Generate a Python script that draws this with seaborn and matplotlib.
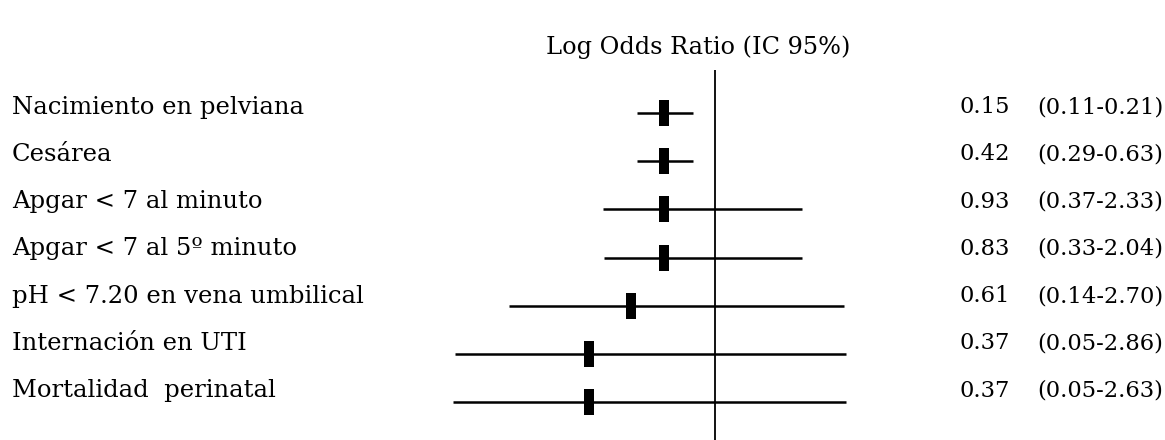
import matplotlib
matplotlib.use("Agg")
import matplotlib.pyplot as plt
import seaborn as sns
import pandas as pd

# ---- data ----
categories = [
    "Nacimiento en pelviana",
    "Cesárea",
    "Apgar < 7 al minuto",
    "Apgar < 7 al 5º minuto",
    "pH < 7.20 en vena umbilical",
    "Internación en UTI",
    "Mortalidad  perinatal",
]
odds_ratio = ["0.15", "0.42", "0.93", "0.83", "0.61", "0.37", "0.37"]
ci_text = ["(0.11-0.21)", "(0.29-0.63)", "(0.37-2.33)", "(0.33-2.04)",
           "(0.14-2.70)", "(0.05-2.86)", "(0.05-2.63)"]
# positions as drawn in the (schematic) forest plot, null line at 0
plot_est = [-0.51, -0.51, -0.51, -0.51, -0.84, -1.26, -1.26]
plot_lo = [-0.78, -0.78, -1.12, -1.11, -2.06, -2.60, -2.62]
plot_hi = [-0.22, -0.22, 0.87, 0.87, 1.29, 1.31, 1.31]
title = "Log Odds Ratio (IC 95%)"

df = pd.DataFrame({"cat": categories, "est": plot_est, "lo": plot_lo,
                   "hi": plot_hi, "row": range(len(categories))})

sns.set_theme(style="white")
plt.rcParams["font.family"] = ["DejaVu Serif"]

fig = plt.figure(figsize=(11.65, 4.4), dpi=100)
ax = fig.add_axes([0, 0, 1, 1])
ax.set_xlim(-7.15, 4.50)
ax.set_ylim(6.784, -2.344)
ax.axis("off")

# null line
ax.vlines(0, -0.90, 6.784, color="black", lw=1.3)
# confidence intervals
ax.hlines(df["row"], df["lo"], df["hi"], color="black", lw=1.8)
# point estimates (rectangular boxes)
box = [(-0.4, -1), (0.4, -1), (0.4, 1), (-0.4, 1)]
sns.scatterplot(data=df, x="est", y="row", marker=box, s=330,
                color="black", edgecolor="black", linewidth=0, ax=ax,
                legend=False, zorder=3)

fs_lab = 17.5
fs_num = 16.3
for i, (c, o, ci) in enumerate(zip(categories, odds_ratio, ci_text)):
    yy = i - 0.12 * (1 + i / 6)
    ax.text(-7.03, yy, c, ha="left", va="center", fontsize=fs_lab, color="black")
    ax.text(2.44, yy, o, ha="left", va="center", fontsize=fs_num, color="black")
    ax.text(3.22, yy, ci, ha="left", va="center", fontsize=fs_num, color="black")

ax.text(-0.17, -1.37, title, ha="center", va="center", fontsize=17.3,
        color="black")

fig.savefig("out.png", dpi=100)
